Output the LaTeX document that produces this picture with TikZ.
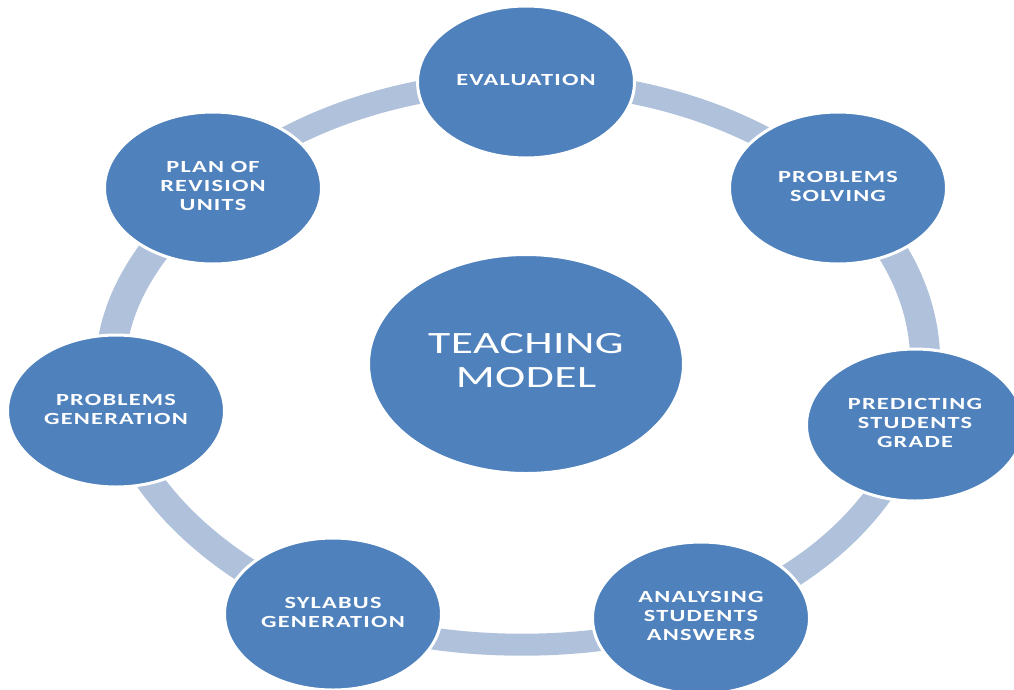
\documentclass[tikz,border=0pt]{standalone}
\usepackage{fontspec}
\setmainfont{Carlito}
\usetikzlibrary{shapes.geometric,calc}
\definecolor{nodeblue}{RGB}{79,129,189}
\definecolor{ringblue}{RGB}{176,193,220}
\pgfdeclarelayer{bg}
\pgfsetlayers{bg,main}
\newcommand{\stlabel}[1]{\scalebox{1.43}[1]{\addfontfeature{LetterSpace=5}\begin{tabular}{@{}c@{}}#1\end{tabular}}}
\newcommand{\hublabel}[1]{\scalebox{1.47}[1]{\addfontfeature{LetterSpace=1}\begin{tabular}{@{}c@{}}#1\end{tabular}}}
\begin{document}
\begin{tikzpicture}[x=1pt,y=-1pt,
  stage/.style={ellipse, fill=nodeblue, draw=white, line width=3pt,
    minimum width=217pt, minimum height=152pt, inner sep=0pt, text=white,
    font=\fontsize{17}{19}\selectfont\bfseries},
  hub/.style={ellipse, fill=nodeblue, draw=white, line width=3pt,
    minimum width=315pt, minimum height=219pt, inner sep=0pt, text=white,
    font=\fontsize{31}{34}\selectfont},
  ringlink/.style={draw=ringblue, line cap=butt}]
\useasboundingbox (0,0) rectangle (1014,689);
\clip (0,0) rectangle (1014,689);

\node[hub] (hub) at (526,364) {\hublabel{TEACHING\\MODEL}};
\node[stage] (eval) at (526,82) {\stlabel{EVALUATION}};
\node[stage] (solv) at (838,188) {\stlabel{PROBLEMS\\SOLVING}};
\node[stage] (pred) at (915,425) {\stlabel{PREDICTING\\STUDENTS\\GRADE}};
\node[stage] (anal) at (701,618) {\stlabel{ANALYSING\\STUDENTS\\ANSWERS}};
\node[stage] (syl) at (333,614) {\stlabel{SYLABUS\\GENERATION}};
\node[stage] (gen) at (116,411) {\stlabel{PROBLEMS\\GENERATION}};
\node[stage] (plan) at (213,188) {\stlabel{PLAN OF\\REVISION\\UNITS}};

\begin{pgfonlayer}{bg}
\draw[ringlink, line width=23pt] (eval.center) .. controls ($(eval.center)+(121.6,0)$) and ($(solv.center)-(75.9,66.5)$) .. (solv.center);
\draw[ringlink, line width=30pt] (solv.center) .. controls ($(solv.center)+(75.9,66.5)$) and ($(pred.center)-(-27.4,82.8)$) .. (pred.center);
\draw[ringlink, line width=26pt] (pred.center) .. controls ($(pred.center)+(-27.4,82.8)$) and ($(anal.center)-(-109.8,36.6)$) .. (anal.center);
\draw[ringlink, line width=22pt] (anal.center) .. controls ($(anal.center)+(-109.8,36.6)$) and ($(syl.center)-(-107.3,-39.9)$) .. (syl.center);
\draw[ringlink, line width=27pt] (syl.center) .. controls ($(syl.center)+(-107.3,-39.9)$) and ($(gen.center)-(-21.1,-83.7)$) .. (gen.center);
\draw[ringlink, line width=30pt] (gen.center) .. controls ($(gen.center)+(-21.1,-83.7)$) and ($(plan.center)-(75.7,-66.5)$) .. (plan.center);
\draw[ringlink, line width=23pt] (plan.center) .. controls ($(plan.center)+(75.7,-66.5)$) and ($(eval.center)-(121.6,0)$) .. (eval.center);
\end{pgfonlayer}
\end{tikzpicture}
\end{document}
